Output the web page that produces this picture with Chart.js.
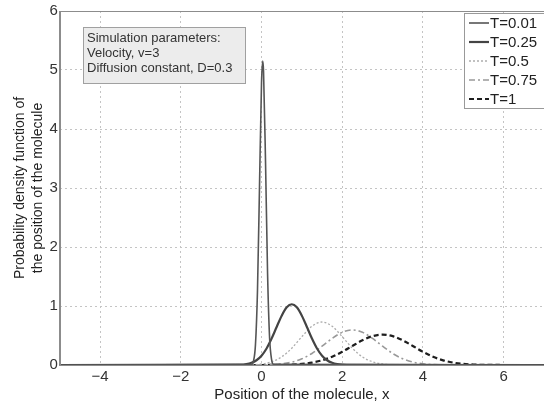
<!DOCTYPE html>
<html>
<head>
<meta charset="utf-8">
<script src="https://cdn.jsdelivr.net/npm/chart.js@4/dist/chart.umd.min.js"></script>
<style>
  html, body { margin: 0; padding: 0; background: #fff; }
  #chart { display: block; }
</style>
</head>
<body>
<canvas id="chart" width="544" height="402"></canvas>
<script>
// series labels
const seriesLabels = ['T=0.01', 'T=0.25', 'T=0.5', 'T=0.75', 'T=1'];

// positions / densities
const xT001 = [-5, -0.25, -0.2, -0.15, -0.1, -0.05, 0, 0.03, 0.05, 0.1, 0.15, 0.2, 0.25, 0.3, 7];
const yT001 = [0, 0.008, 0.063, 0.346, 1.26, 3.02, 4.78, 5.15, 4.98, 3.42, 1.55, 0.464, 0.091, 0.012, 0];

const xT025 = [-5, -0.5, -0.375, -0.25, -0.125, 0, 0.125, 0.25, 0.375, 0.5, 0.625, 0.75, 0.875, 1, 1.125, 1.25, 1.375, 1.5, 1.625, 1.75, 1.875, 2, 2.25, 7];
const yT025 = [0, 0.0056, 0.0152, 0.0368, 0.0802, 0.158, 0.2802, 0.448, 0.6446, 0.836, 0.978, 1.03, 0.978, 0.836, 0.6446, 0.448, 0.2802, 0.158, 0.0802, 0.0368, 0.0152, 0.0056, 0.0006, 0];

const xT05 = [-5, -0.25, 0, 0.25, 0.5, 0.75, 1, 1.25, 1.5, 1.75, 2, 2.25, 2.5, 2.75, 3, 3.25, 3.5, 7];
const yT05 = [0, 0.0044, 0.0171, 0.0539, 0.1376, 0.2852, 0.4802, 0.6564, 0.7284, 0.6564, 0.4802, 0.2852, 0.1376, 0.0539, 0.0171, 0.0044, 0.0009, 0];

const xT075 = [-5, -0.25, 0, 0.25, 0.5, 0.75, 1, 1.25, 1.5, 1.75, 2, 2.25, 2.5, 2.75, 3, 3.25, 3.5, 3.75, 4, 4.25, 4.5, 4.75, 7];
const yT075 = [0, 0.0006, 0.0021, 0.007, 0.0198, 0.0488, 0.1048, 0.1958, 0.3183, 0.4505, 0.5548, 0.5947, 0.5548, 0.4505, 0.3183, 0.1958, 0.1048, 0.0488, 0.0198, 0.007, 0.0021, 0.0006, 0];

const xT1 = [-5, 0, 0.25, 0.5, 0.75, 1, 1.25, 1.5, 1.75, 2, 2.25, 2.5, 2.75, 3, 3.25, 3.5, 3.75, 4, 4.25, 4.5, 4.75, 5, 5.25, 5.5, 5.75, 6, 7];
const yT1 = [0, 0.0003, 0.0009, 0.0028, 0.0076, 0.0184, 0.0401, 0.079, 0.1401, 0.2238, 0.3223, 0.4181, 0.4889, 0.515, 0.4889, 0.4181, 0.3223, 0.2238, 0.1401, 0.079, 0.0401, 0.0184, 0.0076, 0.0028, 0.0009, 0.0003, 0];

// tick labels
const xTicks = [-4, -2, 0, 2, 4, 6];
const yTicks = [0, 1, 2, 3, 4, 5, 6];

const infoLines = ['Simulation parameters:', 'Velocity, v=3', 'Diffusion constant, D=0.3'];

const FONT = "'Liberation Sans', Arial, Helvetica, sans-serif";

const styles = [
  { color: '#555555', width: 1.6, dash: [] },
  { color: '#444444', width: 2.2, dash: [] },
  { color: '#adadad', width: 1.3, dash: [2, 2] },
  { color: '#999999', width: 1.6, dash: [6, 3, 2, 3] },
  { color: '#1e1e1e', width: 2.2, dash: [5, 3] },
];

const zip = (xs, ys) => xs.map((x, i) => ({ x: x, y: ys[i] }));
const seriesData = [zip(xT001, yT001), zip(xT025, yT025), zip(xT05, yT05), zip(xT075, yT075), zip(xT1, yT1)];

// frame, info box and legend box drawn on top of the plot
const overlay = {
  id: 'overlay',
  afterDraw(chart) {
    const ctx = chart.ctx;
    const a = chart.chartArea;
    ctx.save();
    // frame
    ctx.strokeStyle = '#8c8c8c';
    ctx.lineWidth = 1;
    ctx.setLineDash([]);
    ctx.strokeRect(Math.round(a.left) + 0.5, Math.round(a.top) + 0.5, Math.round(a.right - a.left), Math.round(a.bottom - a.top));

    // info box
    ctx.fillStyle = '#ececec';
    ctx.fillRect(83, 27, 162, 56);
    ctx.strokeStyle = '#a0a0a0';
    ctx.strokeRect(83.5, 27.5, 162, 56);
    ctx.fillStyle = '#333';
    ctx.font = '13px ' + FONT;
    ctx.textBaseline = 'middle';
    ctx.textAlign = 'left';
    infoLines.forEach((t, i) => ctx.fillText(t, 87, 38 + i * 15));

    // legend
    ctx.fillStyle = '#fff';
    ctx.fillRect(464, 13, 90, 95);
    ctx.strokeStyle = '#999';
    ctx.strokeRect(464.5, 13.5, 90, 95);
    ctx.font = '15px ' + FONT;
    seriesLabels.forEach((lbl, i) => {
      const y = 23 + i * 19;
      const s = styles[i];
      ctx.beginPath();
      ctx.strokeStyle = s.color;
      ctx.lineWidth = s.width;
      ctx.setLineDash(s.dash);
      ctx.moveTo(469, y);
      ctx.lineTo(489, y);
      ctx.stroke();
      ctx.setLineDash([]);
      ctx.fillStyle = '#222';
      ctx.fillText(lbl, 490, y + 1);
    });
    ctx.restore();
  }
};

const minusSign = (v) => String(v).replace('-', '\u2212');

new Chart(document.getElementById('chart'), {
  type: 'line',
  data: {
    datasets: seriesLabels.map((lbl, i) => ({
      label: lbl,
      data: seriesData[i],
      borderColor: styles[i].color,
      borderWidth: styles[i].width,
      borderDash: styles[i].dash,
      pointRadius: 0,
      fill: false,
      cubicInterpolationMode: 'monotone',
    })),
  },
  options: {
    responsive: false,
    animation: false,
    layout: { padding: { top: 7, right: -4, bottom: -2, left: 7 } },
    plugins: {
      legend: { display: false },
      tooltip: { enabled: false },
    },
    scales: {
      x: {
        type: 'linear',
        min: -5,
        max: 7,
        afterBuildTicks: (scale) => { scale.ticks = xTicks.map(v => ({ value: v })); },
        ticks: { color: '#333', font: { family: FONT, size: 15 }, padding: 3, maxRotation: 0, callback: minusSign },
        grid: { color: '#c4c4c4', drawTicks: false },
        border: { display: true, color: '#8c8c8c', dash: [2, 3] },
        title: {
          display: true,
          text: 'Position of the molecule, x',
          color: '#222',
          font: { family: FONT, size: 15 },
          padding: { top: -3, bottom: 0 },
        },
      },
      y: {
        min: 0,
        max: 6,
        afterBuildTicks: (scale) => { scale.ticks = yTicks.map(v => ({ value: v })); },
        ticks: { color: '#333', font: { family: FONT, size: 15 }, padding: 2 },
        grid: { color: '#c4c4c4', drawTicks: false },
        border: { display: true, color: '#8c8c8c', dash: [2, 3] },
        title: {
          display: true,
          text: ['Probability density function of', 'the position of the molecule'],
          color: '#222',
          font: { family: FONT, size: 14, lineHeight: 1.3 },
          padding: { top: 4, bottom: 0 },
        },
      },
    },
  },
  plugins: [overlay],
});
</script>
</body>
</html>
